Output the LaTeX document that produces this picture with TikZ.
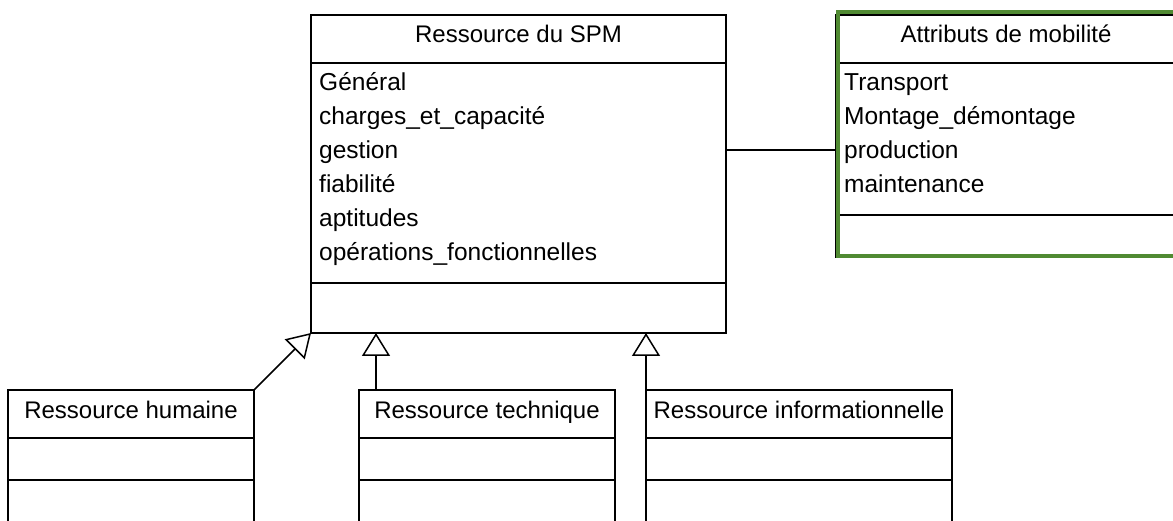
\documentclass[tikz,border=0pt]{standalone}
\usepackage{fontspec}
\setmainfont{Liberation Sans}
\usepackage{tikz}
\usetikzlibrary{positioning,arrows.meta}

\definecolor{mobgreen}{RGB}{80,138,50}
\newcommand{\titlefont}{\fontsize{24}{34}\selectfont}
\newcommand{\attrfont}{\fontsize{24.5}{34}\selectfont}
\newcommand{\usc}{\char95\relax}

\tikzset{
  classtitle/.style={draw, line width=1.5pt, rectangle, minimum height=48pt, inner sep=0pt, outer sep=0pt,
    text height=17pt, text depth=9pt, font=\titlefont},
  classpart/.style={draw, line width=1.5pt, rectangle, inner sep=0pt, outer sep=0pt},
  attrlist/.style={inner sep=0pt, align=left, anchor=base west, font=\attrfont},
  gen/.style={line width=1.5pt, -{Triangle[open, length=23pt, width=28pt, line width=1.5pt]}},
  mobframe/.style={draw=mobgreen, line width=4pt}
}

\begin{document}
\begin{tikzpicture}[x=1pt,y=-1pt]
\useasboundingbox[fill=white] (0,0) rectangle (1173,521);
\clip (0,0) rectangle (1173,521);

% classe mere
\node[classtitle, minimum width=415pt, anchor=north west] (spmT) at (311,15) {Ressource du SPM};
\node[classpart, minimum width=415pt, minimum height=220pt, below=0pt of spmT] (spmA) {};
\node[classpart, minimum width=415pt, minimum height=50pt, below=0pt of spmA] (spmM) {};
\node[attrlist, text width=390pt] (spmL) at ([xshift=8pt, yshift=-28pt]spmA.north west)
  {G\'en\'eral\\charges\usc et\usc capacit\'e\\gestion\\fiabilit\'e\\aptitudes\\op\'erations\usc fonctionnelles};

% attributs de mobilite
\node[classtitle, minimum width=340pt, anchor=north west] (mobT) at (836,15) {Attributs de mobilit\'e};
\node[classpart, minimum width=340pt, minimum height=152pt, below=0pt of mobT] (mobA) {};
\node[classpart, minimum width=340pt, minimum height=42pt, below=0pt of mobA] (mobM) {};
\node[attrlist, text width=320pt] (mobL) at ([xshift=8pt, yshift=-28pt]mobA.north west)
  {Transport\\Montage\usc d\'emontage\\production\\maintenance};
\draw[mobframe] ([shift={(1.5,-2.5)}]mobT.north west) rectangle ([shift={(2,-0.5)}]mobM.south east);

% sous-classes
\node[classtitle, minimum width=246pt, anchor=north west] (humT) at (8,390) {Ressource humaine};
\node[classpart, minimum width=246pt, minimum height=42pt, below=0pt of humT] (humA) {};
\node[classpart, minimum width=246pt, minimum height=60pt, below=0pt of humA] (humM) {};

\node[classtitle, minimum width=256pt, anchor=north west] (tecT) at (359,390) {Ressource technique};
\node[classpart, minimum width=256pt, minimum height=42pt, below=0pt of tecT] (tecA) {};
\node[classpart, minimum width=256pt, minimum height=60pt, below=0pt of tecA] (tecM) {};

\node[classtitle, minimum width=306pt, anchor=north west] (infT) at (646,390) {Ressource informationnelle};
\node[classpart, minimum width=306pt, minimum height=42pt, below=0pt of infT] (infA) {};
\node[classpart, minimum width=306pt, minimum height=60pt, below=0pt of infA] (infM) {};

% liens
\draw[line width=1.5pt] ([yshift=-11pt]mobA.west) -- ([yshift=-11pt]mobA.west -| spmA.east);
\draw[gen] (humT.north east) -- (spmM.south west);
\draw[gen] ([xshift=17pt]tecT.north west) -- ([xshift=17pt]tecT.north west |- spmM.south);
\draw[gen] (infT.north west) -- (infT.north west |- spmM.south);
\end{tikzpicture}
\end{document}
